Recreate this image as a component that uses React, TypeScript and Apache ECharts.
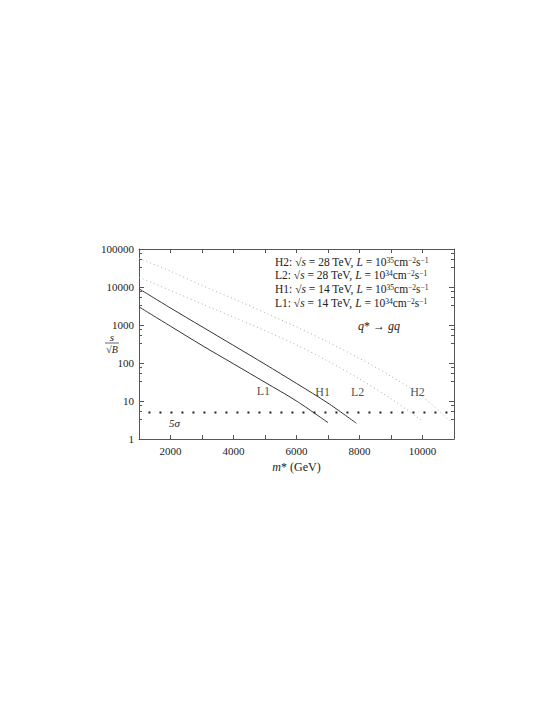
import React, { useEffect, useRef } from "react";
import * as echarts from "echarts";

// m* (GeV) values and s/sqrt(B) values
const l1X = [1000, 2000, 3000, 4000, 5000, 6000, 7000];
const l1Y = [3000, 930, 290, 95, 31, 10, 2.7];
const h1X = [1000, 2000, 3000, 4000, 5000, 6000, 7000, 7900];
const h1Y = [9000, 2800, 900, 290, 93, 29, 8.8, 2.6];
const l2X = [1000, 2000, 3000, 4000, 5000, 6000, 7000, 8000, 9000, 10000];
const l2Y = [18000, 8100, 3600, 1600, 710, 300, 112, 38, 11.5, 3.0];
const h2X = [1000, 2000, 3000, 4000, 5000, 6000, 7000, 8000, 9000, 10000, 10900];
const h2Y = [57000, 26000, 11000, 4900, 2100, 890, 355, 132, 45, 13, 2.8];
const fiveSigmaX = [1300, 11000];
const fiveSigmaY = [5, 5];
const curveLabels = ["L1", "H1", "L2", "H2"];
const curveLabelX = [4950, 6830, 7940, 9840];
const curveLabelY = [19, 18, 18, 18];
const legendLines = [
  ["H2", "28", "35"],
  ["L2", "28", "34"],
  ["H1", "14", "35"],
  ["L1", "14", "34"],
];
const xTicks = [2000, 4000, 6000, 8000, 10000];

const zip = (xs: number[], ys: number[]) => xs.map((x, i) => [x, ys[i]]);

const FONT = "'Liberation Serif', 'DejaVu Serif', serif";

export default function App() {
  const ref = useRef<HTMLDivElement>(null);
  useEffect(() => {
    document.body.style.margin = "0";
    if (!ref.current) return;
    const chart = echarts.init(ref.current, undefined, { renderer: "svg" });
    const axisLine = { show: true, lineStyle: { color: "#555", width: 1 } };
    const tickStyle = { color: "#555", width: 1 };
    const legendTop = [256, 269, 283, 297];
    const option: any = {
      animation: false,
      backgroundColor: "#fff",
      grid: { left: 139, right: 100, top: 249, bottom: 278, containLabel: false },
      xAxis: [
        {
          type: "value",
          min: 1000,
          max: 11000,
          interval: 1000,
          position: "bottom",
          axisLine,
          axisTick: { show: true, inside: true, length: 4, lineStyle: tickStyle, interval: 0 },
          axisLabel: {
            color: "#222",
            fontFamily: FONT,
            fontSize: 11,
            margin: 6,
            formatter: (v: number) => (xTicks.includes(v) ? String(v) : ""),
          },
          splitLine: { show: false },
          name: "{i|m}* (GeV)",
          nameLocation: "middle",
          nameGap: 22,
          nameTextStyle: {
            color: "#222",
            fontFamily: FONT,
            fontSize: 12,
            rich: { i: { fontStyle: "italic", fontFamily: FONT, fontSize: 12, color: "#222" } },
          },
        },
        {
          type: "value",
          min: 1000,
          max: 11000,
          interval: 1000,
          position: "top",
          axisLine,
          axisTick: { show: true, inside: true, length: 4, lineStyle: tickStyle },
          axisLabel: { show: false },
          splitLine: { show: false },
        },
      ],
      yAxis: [
        {
          type: "log",
          logBase: 10,
          min: 1,
          max: 100000,
          position: "left",
          axisLine,
          axisTick: { show: true, inside: true, length: 5, lineStyle: tickStyle },
          minorTick: { show: true, splitNumber: 4, length: 3, lineStyle: tickStyle },
          axisLabel: {
            color: "#222",
            fontFamily: FONT,
            fontSize: 11,
            margin: 5,
            formatter: (v: number) => String(Math.round(v)),
          },
          splitLine: { show: false },
        },
        {
          type: "log",
          logBase: 10,
          min: 1,
          max: 100000,
          position: "right",
          axisLine,
          axisTick: { show: true, inside: true, length: 5, lineStyle: tickStyle },
          minorTick: { show: true, splitNumber: 4, length: 3, lineStyle: tickStyle },
          axisLabel: { show: false },
          splitLine: { show: false },
        },
      ],
      series: [
        {
          type: "line",
          data: zip(l1X, l1Y),
          showSymbol: false,
          smooth: 0.3,
          lineStyle: { color: "#333", width: 1 },
        },
        {
          type: "line",
          data: zip(h1X, h1Y),
          showSymbol: false,
          smooth: 0.3,
          lineStyle: { color: "#333", width: 1 },
        },
        {
          type: "line",
          data: zip(l2X, l2Y),
          showSymbol: false,
          smooth: 0.3,
          lineStyle: { color: "#aaa", width: 1, type: [1, 3] },
        },
        {
          type: "line",
          data: zip(h2X, h2Y),
          showSymbol: false,
          smooth: 0.3,
          lineStyle: { color: "#aaa", width: 1, type: [1, 3] },
        },
        {
          type: "line",
          data: zip(fiveSigmaX, fiveSigmaY),
          showSymbol: false,
          lineStyle: { color: "#222", width: 2, type: [2, 9] },
        },
        {
          type: "scatter",
          symbol: "circle",
          symbolSize: 1,
          itemStyle: { color: "rgba(255,255,255,0)" },
          data: curveLabels.map((n, i) => ({ value: [curveLabelX[i], curveLabelY[i]], name: n })),
          label: {
            show: true,
            position: "top",
            distance: 0,
            offset: [0, 7],
            formatter: (p: any) => p.name,
            color: "#222",
            fontFamily: FONT,
            fontSize: 12,
          },
          emphasis: { disabled: true },
        },
      ],
      graphic: [
        ...legendLines.map((l, i) => ({
          type: "text",
          left: 275,
          top: legendTop[i],
          style: {
            text: `${l[0]}: √{i|s} = ${l[1]} TeV, {i|L} = 10{sup|${l[2]}}cm{sup|−2}s{sup|−1}`,
            fontFamily: FONT,
            fontSize: 11.5,
            fill: "#222",
            rich: {
              i: { fontStyle: "italic", fontFamily: FONT, fontSize: 11.5, fill: "#222" },
              sup: { fontFamily: FONT, fontSize: 7.5, fill: "#222", verticalAlign: "top", padding: [0, 0, 4, 0] },
            },
          },
        })),
        {
          type: "text",
          left: 358,
          top: 320,
          style: {
            text: "{i|q}* → {i|gq}",
            fontFamily: FONT,
            fontSize: 12,
            fill: "#222",
            rich: { i: { fontStyle: "italic", fontFamily: FONT, fontSize: 12, fill: "#222" } },
          },
        },
        {
          type: "text",
          left: 169,
          top: 417,
          style: { text: "5σ", fontFamily: FONT, fontSize: 11, fontStyle: "italic", fill: "#222" },
        },
        {
          type: "text",
          x: 112,
          y: 342,
          style: { text: "s", fontFamily: FONT, fontSize: 11, fontStyle: "italic", fill: "#222", align: "center", verticalAlign: "bottom" },
        },
        {
          type: "line",
          shape: { x1: 105, y1: 343, x2: 119, y2: 343 },
          style: { stroke: "#222", lineWidth: 0.7 },
        },
        {
          type: "text",
          x: 112,
          y: 344,
          style: { text: "√B", fontFamily: FONT, fontSize: 10, fontStyle: "italic", fill: "#222", align: "center", verticalAlign: "top" },
        },
      ],
    };
    chart.setOption(option);
    return () => chart.dispose();
  }, []);
  return <div ref={ref} style={{ width: 554, height: 717 }} />;
}
